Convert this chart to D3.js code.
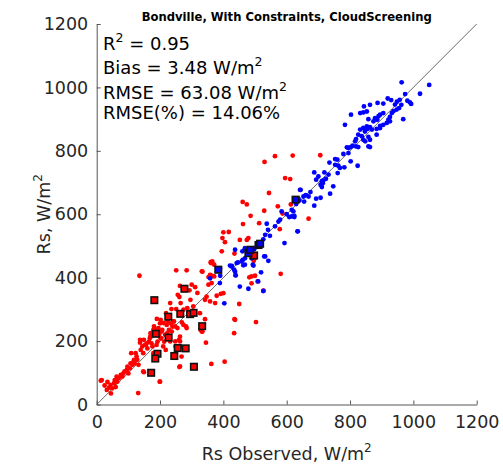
<!DOCTYPE html>
<html>
<head>
<meta charset="utf-8">
<script src="https://cdn.jsdelivr.net/npm/d3@7"></script>
<style>
html,body{margin:0;padding:0;background:#fff;}
svg{display:block;}
text{font-family:"DejaVu Sans",sans-serif;}
</style>
</head>
<body>
<svg id="chart" width="503" height="467"></svg>
<script>
// ---- data (Rs observed, Rs estimated), W/m^2 ----
const titleText = "Bondville, With Constraints, CloudScreening";
const xTicks = [0, 200, 400, 600, 800, 1000, 1200];
const yTicks = [0, 200, 400, 600, 800, 1000, 1200];
const statsLines = [
  ["R", "2", " = 0.95", ""],
  ["Bias = 3.48 W/m", "2", "", ""],
  ["RMSE = 63.08 W/m", "2", "", ""],
  ["RMSE(%) = 14.06%", "", "", ""]
];

const redPoints = [
  [13,75],[34,71],[39,53],[32,46],[44,62],[49,51],[55,67],[57,77],[63,88],[65,72],
  [70,83],[76,93],[81,88],[84,98],[88,104],[95,109],[97,119],[100,98],[105,114],[107,130],
  [109,162],[113,125],[116,135],[118,141],[120,130],[123,162],[126,151],[128,141],[132,125],[137,195],
  [139,172],[144,183],[147,162],[149,102],[149,204],[155,188],[158,193],[160,177],[165,198],[168,209],
  [170,225],[173,193],[176,183],[179,162],[181,246],[184,237],[189,188],[192,198],[197,220],[200,256],
  [202,209],[207,235],[210,183],[213,198],[218,172],[223,225],[228,235],[234,256],[239,246],[244,262],
  [249,183],[255,241],[260,204],[263,183],[131,36],[199,72],[16,77],[25,60],[45,35],[60,55],
  [135,406],[251,423],[284,423],[332,420],[353,402],[363,406],[371,404],[489,404],[500,406],[581,412],
  [300,378],[311,370],[293,360],[263,374],[256,346],[353,378],[363,383],[379,343],[392,349],[400,351],
  [342,330],[358,325],[374,320],[527,359],[261,339],[232,320],[265,320],[251,301],[274,299],[286,304],
  [305,309],[326,288],[342,269],[219,288],[236,301],[450,317],[202,267],[211,257],[221,251],[242,262],
  [269,259],[284,241],[248,246],[237,230],[503,260],[435,269],[179,235],[195,241],[205,230],[169,214],
  [203,209],[216,220],[232,199],[248,199],[263,199],[137,204],[153,188],[345,195],[434,225],[332,230],
  [261,118],[362,128],[404,135],[200,72],[147,104],[274,251],[282,246],[328,235],[334,230],[437,267],
  [263,214],[268,151],[263,120],[397,525],[405,512],[452,519],[474,519],[479,525],[395,483],[365,451],
  [361,446],[371,441],[358,409],[347,340],[489,382],[508,388],[500,462],[496,453],[400,543],[417,544],
  [462,569],[461,639],[474,631],[486,595],[513,572],[530,765],[563,783],[619,785],[706,786],[595,714],
  [611,711],[544,667],[529,611],[572,625],[669,586],[578,553],[613,631],[587,602],[435,476],[438,408],
  [482,401],[360,449],[334,419],[224,262],[190,270],[296,330],[318,352]
];

const bluePoints = [
  [358,398],[390,406],[389,383],[403,319],[437,488],[460,483],[468,493],[529,467],[542,453],[593,509],
  [489,461],[426,435],[421,438],[442,446],[458,451],[468,441],[495,438],[437,419],[439,407],[389,430],
  [519,417],[452,372],[479,365],[510,388],[526,358],[532,467],[634,546],[642,677],[653,656],[669,656],
  [624,591],[608,591],[584,609],[574,577],[563,562],[537,570],[541,551],[532,535],[547,532],[526,521],
  [474,483],[468,461],[493,441],[461,456],[446,448],[427,437],[434,425],[463,439],[505,497],[497,490],
  [687,732],[719,732],[732,725],[761,730],[693,709],[711,704],[716,707],[724,712],[707,693],[711,686],
  [747,688],[644,677],[737,665],[693,649],[707,652],[640,643],[637,649],[630,632],[687,627],[616,614],
  [621,609],[616,593],[624,595],[635,546],[579,583],[660,660],[700,719],[714,698],[753,774],[760,772],
  [963,1016],[1050,1008],[974,979],[1021,980],[957,961],[919,965],[981,958],[989,953],[993,948],[942,946],
  [947,930],[955,935],[937,925],[932,919],[926,907],[905,919],[895,914],[890,909],[886,898],[874,893],
  [879,903],[842,921],[858,900],[803,914],[784,882],[968,900],[916,888],[921,898],[926,893],[905,882],
  [895,879],[884,869],[895,872],[869,867],[863,875],[853,877],[842,872],[847,861],[855,869],[832,867],
  [826,851],[837,846],[842,835],[858,844],[884,851],[863,835],[819,837],[816,830],[848,830],[858,814],
  [863,812],[802,812],[795,809],[790,811],[808,816],[826,812],[819,814],[779,790],[795,793],[735,763],
  [763,753],[768,746],[753,756],[782,748],[802,767],[824,753],[905,949],[887,951],[863,945],[844,940],
  [832,919],[853,924],[930,960],[948,955],[962,945],[600,600],[655,640],[675,670]
];

const redSquares = [
  [277,365],[182,329],[226,277],[264,286],[295,285],[306,289],[333,247],[187,223],[227,211],[256,178],
  [281,177],[192,160],[185,145],[245,153],[307,119],[172,100],[497,470]
];

const blueSquares = [
  [384,425],[479,477],[485,488],[511,503],[516,507],[628,646]
];

// ---- chart ----
const svg = d3.select("#chart");
const x = d3.scaleLinear().domain([0, 1200]).range([96.7, 476.7]);
const y = d3.scaleLinear().domain([0, 1200]).range([404.5, 24]);
const axisColor = "#262626";

// title
svg.append("text")
  .attr("x", 286.7).attr("y", 20.5)
  .attr("text-anchor", "middle")
  .style("font-size", "11.6px").style("font-weight", "bold")
  .attr("fill", "#000")
  .text(titleText);

// axes
const fmt = d3.format("d");
const xAxis = d3.axisBottom(x).tickValues(xTicks).tickFormat(fmt).tickSizeInner(-4).tickSizeOuter(0).tickPadding(11);
const yAxis = d3.axisLeft(y).tickValues(yTicks).tickFormat(fmt).tickSizeInner(-4).tickSizeOuter(0).tickPadding(8.5);

const gx = svg.append("g").attr("transform", `translate(0,${y(0)})`).call(xAxis);
const gy = svg.append("g").attr("transform", `translate(${x(0)},0)`).call(yAxis);
[gx, gy].forEach(g => {
  g.select(".domain").attr("stroke", "#555").attr("stroke-width", 1);
  g.selectAll(".tick line").attr("stroke", "#555").attr("stroke-width", 1);
  g.selectAll(".tick text").attr("fill", axisColor)
    .style("font-family", "DejaVu Sans, sans-serif").style("font-size", "17.5px");
});

// 1:1 line
svg.append("line")
  .attr("x1", x(0)).attr("y1", y(0)).attr("x2", x(1200)).attr("y2", y(1200))
  .attr("stroke", "#444").attr("stroke-width", 0.8);

// points
svg.append("g").selectAll("circle").data(redPoints).join("circle")
  .attr("cx", d => x(d[0])).attr("cy", d => y(d[1])).attr("r", 2.4).attr("fill", "#ff0000");
svg.append("g").selectAll("circle").data(bluePoints).join("circle")
  .attr("cx", d => x(d[0])).attr("cy", d => y(d[1])).attr("r", 2.4).attr("fill", "#0000ff");

const sq = 6.5;
svg.append("g").selectAll("rect").data(redSquares).join("rect")
  .attr("x", d => x(d[0]) - sq / 2).attr("y", d => y(d[1]) - sq / 2)
  .attr("width", sq).attr("height", sq)
  .attr("fill", "#ff0000").attr("stroke", "#111").attr("stroke-width", 1.6);
svg.append("g").selectAll("rect").data(blueSquares).join("rect")
  .attr("x", d => x(d[0]) - sq / 2).attr("y", d => y(d[1]) - sq / 2)
  .attr("width", sq).attr("height", sq)
  .attr("fill", "#0000ff").attr("stroke", "#111").attr("stroke-width", 1.6);

// stats text
const baselines = [50, 73.5, 98.5, 118.5];
statsLines.forEach((ln, i) => {
  const t = svg.append("text").attr("x", 103).attr("y", baselines[i])
    .style("font-size", "18px").attr("fill", "#000");
  t.append("tspan").text(ln[0]);
  if (ln[1]) {
    t.append("tspan").attr("dy", -8).style("font-size", "12.5px").text(ln[1]);
    if (ln[2]) t.append("tspan").attr("dy", 8).text(ln[2]);
  }
});

// axis labels
const xl = svg.append("text").attr("x", 286.7).attr("y", 460)
  .attr("text-anchor", "middle").style("font-size", "17.5px").attr("fill", axisColor);
xl.append("tspan").text("Rs Observed, W/m");
xl.append("tspan").attr("dy", -8).style("font-size", "12px").text("2");

const yl = svg.append("text")
  .attr("transform", `translate(50,${(y(0) + y(1200)) / 2}) rotate(-90)`)
  .attr("text-anchor", "middle").style("font-size", "17.5px").attr("fill", axisColor);
yl.append("tspan").text("Rs, W/m");
yl.append("tspan").attr("dy", -8).style("font-size", "12px").text("2");
</script>
</body>
</html>
